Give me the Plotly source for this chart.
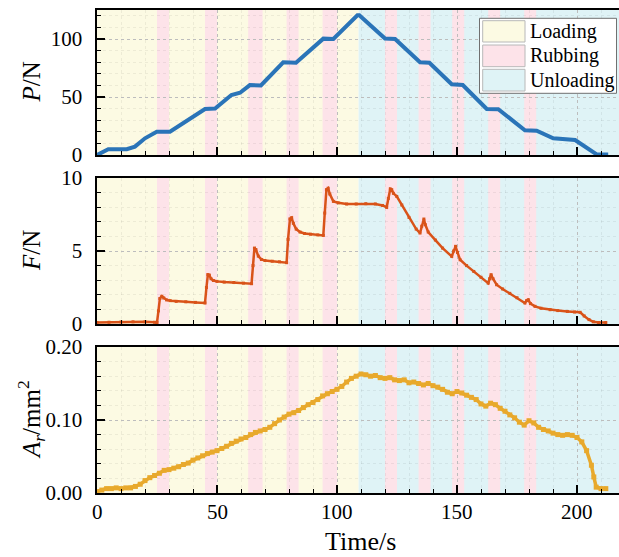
import plotly.graph_objects as go
from plotly.subplots import make_subplots

# ---------------- data ----------------
# Normal load P (N)
t_P = [0, 2, 4.7, 8, 12.4, 15.8, 20, 24.9, 30.4, 45, 49.2, 56, 59.6, 63.7, 68.3,
       77.6, 82.9, 94.3, 98.5, 108.5, 109.3, 120, 124.2, 134.6, 138.5, 147.8,
       152.4, 162.4, 167.2, 178.3, 183.2, 190.1, 199.2, 208.2, 213]
P = [0, 2, 4.9, 5, 5, 7.2, 14.4, 20, 20, 39.7, 40, 51.7, 53.7, 60.3, 60,
     79.9, 79.5, 100.3, 100, 120.5, 120.5, 100.5, 100, 80, 79.5, 61,
     60.3, 39.7, 39.5, 21.3, 21, 14.4, 12.9, 0.5, 0.5]

# Friction force F (N)
t_F = [0, 5, 10, 15, 20, 24, 25, 25.6, 26.2, 27.0, 27.8, 29, 30.5, 33, 37, 41, 45,
       45.6, 46.2, 46.8, 47.5, 48.5, 50, 53, 57, 61, 64.4, 65.0, 65.6, 66.2, 67.2,
       68.5, 70, 73, 76, 79, 79.6, 80.4, 81.1, 81.8, 83, 84.6, 86.5, 89, 92, 94.3,
       94.9, 95.6, 96.3, 97, 98.5, 100.5, 104, 108, 112, 116, 119, 120.7, 121.4,
       122.2, 122.8, 123.5, 124.9, 127, 130, 133, 134.6, 135.3, 136.2, 136.8, 138,
       141, 144, 147.8, 148.6, 149.4, 150.2, 151.3, 154, 157, 160, 163, 163.6,
       164.2, 165, 166.5, 169, 172, 175, 178.3, 179.0, 179.7, 180.6, 182.5, 185,
       188.8, 192, 196, 199, 201.3, 203, 205, 206.8, 209, 212]
F = [0.1, 0.12, 0.14, 0.15, 0.15, 0.12, 0.1, 0.9, 1.75, 1.9, 1.78, 1.65, 1.6, 1.55,
     1.52, 1.48, 1.44, 2.5, 3.38, 3.35, 3.1, 2.98, 2.92, 2.87, 2.84, 2.8, 2.76, 4.0,
     5.2, 5.1, 4.65, 4.42, 4.35, 4.3, 4.26, 4.2, 5.8, 7.2, 7.28, 6.9, 6.5, 6.3, 6.2,
     6.15, 6.1, 6.07, 7.6, 9.2, 9.3, 8.9, 8.4, 8.3, 8.22, 8.22, 8.24, 8.22, 8.12,
     7.99, 8.6, 9.25, 9.2, 8.95, 8.74, 8.15, 7.3, 6.5, 6.23, 6.7, 7.19, 6.8, 6.3,
     5.75, 5.2, 4.63, 5.0, 5.32, 4.9, 4.4, 4.0, 3.6, 3.2, 2.8, 3.1, 3.38, 3.1, 2.69,
     2.4, 2.1, 1.8, 1.44, 1.6, 1.66, 1.4, 1.21, 1.08, 0.98, 0.92, 0.86, 0.82, 0.8,
     0.55, 0.3, 0.15, 0.1, 0.1]

# Real contact area A_r (mm^2)
t_A = [0, 2, 4, 6, 8, 10, 12, 14, 16, 18, 20, 22, 24, 26, 28, 30, 32, 34, 36, 38,
       40, 42, 44, 46, 48, 50, 52, 54, 56, 58, 60, 62, 64, 66, 68, 70, 72, 74, 76, 78,
       80, 82, 84, 86, 88, 90, 92, 94, 96, 98, 100, 102, 104, 106, 108, 110, 112, 114,
       116, 118, 120, 122, 124, 126, 128, 130, 132, 134, 136, 138, 140, 142, 144, 146,
       148, 150, 152, 154, 156, 158, 160, 162, 164, 166, 168, 170, 172, 174, 176, 178,
       180, 182, 184, 186, 188, 190, 192, 194, 196, 198, 200, 202, 204, 206, 207, 208,
       210, 212]
A = [0.002, 0.004, 0.006, 0.006, 0.007, 0.006, 0.007, 0.007, 0.009, 0.012, 0.017,
     0.021, 0.024, 0.027, 0.031, 0.032, 0.034, 0.036, 0.039, 0.041, 0.045, 0.048,
     0.051, 0.054, 0.056, 0.058, 0.061, 0.064, 0.068, 0.071, 0.074, 0.076, 0.080,
     0.083, 0.085, 0.087, 0.090, 0.095, 0.100, 0.104, 0.108, 0.110, 0.113, 0.117,
     0.121, 0.124, 0.128, 0.133, 0.136, 0.139, 0.142, 0.146, 0.152, 0.157, 0.160,
     0.163, 0.162, 0.160, 0.161, 0.158, 0.157, 0.158, 0.155, 0.154, 0.155, 0.151,
     0.152, 0.150, 0.148, 0.150, 0.147, 0.145, 0.142, 0.138, 0.136, 0.139, 0.137,
     0.134, 0.131, 0.128, 0.122, 0.119, 0.123, 0.121, 0.116, 0.112, 0.107, 0.103,
     0.097, 0.093, 0.099, 0.096, 0.090, 0.087, 0.085, 0.082, 0.080, 0.079, 0.080,
     0.079, 0.076, 0.070, 0.058, 0.038, 0.022, 0.008, 0.006, 0.006]

# Phases (s)
loading_span = [0, 109]
unloading_span = [109, 218]
rubbing_start = [25, 45, 63, 79, 94, 120, 134, 148, 163, 178]
rubbing_end = [30, 50, 69, 84, 100, 125, 139, 153, 168, 183]

legend_labels = ["Loading", "Rubbing", "Unloading"]
y_titles = ["<i>P</i>/N", "<i>F</i>/N", "<i>A<sub>r</sub></i>/mm<sup>2</sup>"]
x_title = "Time/s"
x_ticks = [0, 50, 100, 150, 200]
x_ticklabels = ["0", "50", "100", "150", "200"]

# ---------------- styling ----------------
FONT = "Liberation Serif"
C_LOAD = "#fcfae3"
C_RUB = "#fde3e9"
C_UNLOAD = "#dff3f6"
C_P = "#2a74b8"
C_F = "#d95319"
C_A = "#e8a92c"

W, H = 619, 557
PL, PR, PT, PB = 97, 619, 10, 493          # plot area in page pixels
ML, MR, MT, MB = PL, W - PR, PT, H - PB
PW, PH = PR - PL, PB - PT
X_MAX = PW / 2.4


def px_x(px):
    return (px - PL) / PW


def px_y(py):
    return (PB - py) / PH


fig = make_subplots(rows=3, cols=1)

fig.add_trace(go.Scatter(x=t_P, y=P, mode="lines",
                         line=dict(color=C_P, width=4), showlegend=False,
                         hoverinfo="skip"), row=1, col=1)
fig.add_trace(go.Scatter(x=t_F, y=F, mode="lines+markers",
                         line=dict(color=C_F, width=2.5),
                         marker=dict(symbol="square", size=3, color=C_F),
                         showlegend=False, hoverinfo="skip"), row=2, col=1)
fig.add_trace(go.Scatter(x=t_A, y=A, mode="lines+markers",
                         line=dict(color=C_A, width=3.5),
                         marker=dict(symbol="square", size=5, color=C_A),
                         showlegend=False, hoverinfo="skip"), row=3, col=1)

# panel domains (pixel-derived)
domains = [(px_y(155), px_y(10)), (px_y(324), px_y(178)), (px_y(493), px_y(347))]
yranges = [[0, 125], [0, 10], [0, 0.2]]
ydticks = [50, 5, 0.1]
yminor = [10, 1, 0.02]
yfmt = ["d", "d", ".2f"]

axis_common = dict(
    showline=True, linecolor="black", linewidth=1.6, mirror=True,
    ticks="inside", ticklen=8, tickwidth=1.3, tickcolor="black",
    showgrid=True, gridcolor="#bdbdbd", griddash="dot", gridwidth=1,
    zeroline=False, automargin=False,
    tickfont=dict(family=FONT, size=21, color="black"),
)

for i in range(3):
    r = i + 1
    fig.update_xaxes(range=[0, X_MAX], tickvals=x_ticks, showticklabels=False,
                     minor=dict(dtick=10, ticks="inside", ticklen=4, tickwidth=1,
                                tickcolor="black", showgrid=True,
                                gridcolor="rgba(0,0,0,0.06)", griddash="dot"),
                     row=r, col=1, **axis_common)
    fig.update_xaxes(domain=[0, 1], row=r, col=1)
    fig.update_yaxes(range=yranges[i], dtick=ydticks[i], tick0=0,
                     tickformat=yfmt[i], domain=list(domains[i]),
                     ticklabelstandoff=9,
                     minor=dict(dtick=yminor[i], ticks="inside", ticklen=4, tickwidth=1,
                                tickcolor="black", showgrid=True,
                                gridcolor="rgba(0,0,0,0.06)", griddash="dot"),
                     row=r, col=1, **axis_common)

shapes = []
axn = ["", "2", "3"]
for i in range(3):
    xr = "x" + axn[i]
    yr = "y" + axn[i] + " domain"
    shapes.append(dict(type="rect", xref=xr, yref=yr, x0=loading_span[0], x1=loading_span[1],
                       y0=0, y1=1, fillcolor=C_LOAD, line_width=0, layer="below"))
    shapes.append(dict(type="rect", xref=xr, yref=yr, x0=unloading_span[0], x1=unloading_span[1],
                       y0=0, y1=1, fillcolor=C_UNLOAD, line_width=0, layer="below"))
    for s, e in zip(rubbing_start, rubbing_end):
        shapes.append(dict(type="rect", xref=xr, yref=yr, x0=s, x1=e,
                           y0=0, y1=1, fillcolor=C_RUB, line_width=0, layer="below"))

# manual legend (box + swatches)
shapes.append(dict(type="rect", xref="paper", yref="paper",
                   x0=px_x(479.5), x1=px_x(616.5), y0=px_y(93.3), y1=px_y(18.3),
                   fillcolor="white", line=dict(color="#707070", width=1), layer="above"))
sw_colors = [C_LOAD, C_RUB, C_UNLOAD]
sw_rows = [(20.7, 42.0), (45.0, 66.7), (69.3, 91.0)]
annotations = []
for (y0, y1), c, lab in zip(sw_rows, sw_colors, legend_labels):
    shapes.append(dict(type="rect", xref="paper", yref="paper",
                       x0=px_x(482.7), x1=px_x(525), y0=px_y(y1), y1=px_y(y0),
                       fillcolor=c, line=dict(color="#b8b8b8", width=1), layer="above"))
    annotations.append(dict(xref="paper", yref="paper", x=px_x(528), y=px_y((y0 + y1) / 2),
                            text=lab, showarrow=False, xanchor="left", yanchor="middle",
                            font=dict(family=FONT, size=20, color="black")))

# x tick labels of the bottom panel
for v, lab in zip(x_ticks, x_ticklabels):
    annotations.append(dict(xref="x3", yref="paper", x=v, y=px_y(511.5), text=lab,
                            showarrow=False, xanchor="center", yanchor="middle",
                            font=dict(family=FONT, size=21, color="black")))

# axis titles
centers = [82.5, 251, 420]
for yt, cy in zip(y_titles, centers):
    annotations.append(dict(xref="paper", yref="paper", x=px_x(31), y=px_y(cy),
                            text=yt, textangle=-90, showarrow=False,
                            xanchor="center", yanchor="middle",
                            font=dict(family=FONT, size=25, color="black")))
annotations.append(dict(xref="paper", yref="paper", x=px_x(360), y=px_y(541),
                        text=x_title, showarrow=False, xanchor="center", yanchor="middle",
                        font=dict(family=FONT, size=26, color="black")))

fig.update_layout(
    width=W, height=H,
    margin=dict(l=ML, r=MR, t=MT, b=MB),
    paper_bgcolor="white", plot_bgcolor="white",
    shapes=shapes, annotations=annotations,
    showlegend=False, hovermode=False,
    font=dict(family=FONT, color="black"),
)

fig.write_html(
    "out.html",
    config={"displayModeBar": False, "staticPlot": True},
    post_script="document.body.style.margin='0px';document.body.style.overflow='hidden';",
)
